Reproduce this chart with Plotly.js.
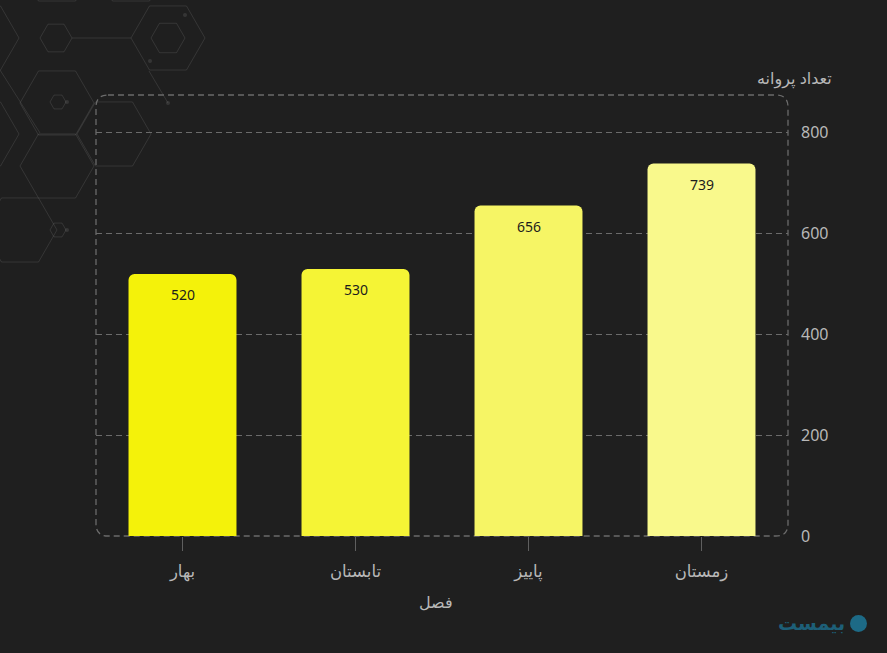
<!DOCTYPE html>
<html><head><meta charset="utf-8">
<script src="https://cdn.plot.ly/plotly-3.0.1.min.js"></script>
<style>html,body{margin:0;padding:0;background:#1f1f1f}#chart{width:887px;height:653px}</style>
</head><body><div id="chart"></div>
<script>
const seasons = ['بهار', 'تابستان', 'پاییز', 'زمستان'];
const counts = [520, 530, 656, 739];
const barColors = ['#f4f20a', '#f5f435', '#f6f565', '#f9f98c'];
const yTicks = [0, 200, 400, 600, 800];
const xTitle = 'فصل';
const yTitle = 'تعداد پروانه';

// layout geometry (pixels)
const W = 887, H = 653;
const M = {l: 96, r: 99, t: 95, b: 117};
const PW = W - M.l - M.r, PH = H - M.t - M.b;
const X = px => ((px - M.l) / PW).toFixed(5);
const Y = py => ((H - M.b - py) / PH).toFixed(5);

function pathOf(cmds) {
  return cmds.map(c => c[0] + ' ' + c.slice(1).map(q => X(q[0]) + ',' + Y(q[1])).join(' ')).join(' ');
}

const deco = 'rgba(255,255,255,0.10)';
function hex(cx, cy, R) {
  const h = R * 0.866;
  const v = [[cx - R, cy], [cx - R / 2, cy - h], [cx + R / 2, cy - h], [cx + R, cy], [cx + R / 2, cy + h], [cx - R / 2, cy + h]];
  return {type: 'path', xref: 'paper', yref: 'paper', layer: 'below',
    path: pathOf([['M', v[0]], ['L', v[1]], ['L', v[2]], ['L', v[3]], ['L', v[4]], ['L', v[5]]]) + ' Z',
    line: {color: deco, width: 1}};
}
function seg(a, b) {
  return {type: 'path', xref: 'paper', yref: 'paper', layer: 'below',
    path: pathOf([['M', a], ['L', b]]), line: {color: deco, width: 1}};
}
function dot(cx, cy) {
  return {type: 'circle', xref: 'paper', yref: 'paper', layer: 'below',
    x0: X(cx - 2), x1: X(cx + 2), y0: Y(cy + 2), y1: Y(cy - 2),
    fillcolor: deco, line: {width: 0}};
}

const shapes = [
  hex(168, 38, 37), hex(168, 38, 17), hex(-18, 38, 37), hex(56, 38, 16),
  hex(57, -31, 37), hex(131, -31, 37),
  hex(57, 103, 37), hex(58, 102, 8), hex(114, 134, 37),
  hex(57, 166, 37), hex(-18, 134, 37), hex(20, 230, 37), hex(58, 230, 8),
  seg([72, 38], [131, 38]), seg([149, 71], [168, 103]), seg([0, 70], [40, 133]),
  dot(67, 102), dot(67, 230), dot(168, 103), dot(185, 15), dot(150, 61)
];

const dashStyle = '6px,4px';
const frameColor = '#6b6b6b';

// rounded dashed plot frame
const bx0 = 96, bx1 = 788, by0 = 95, by1 = 536, rr = 12;
shapes.push({type: 'path', xref: 'paper', yref: 'paper', layer: 'below',
  path: pathOf([
    ['M', [bx0 + rr, by0]], ['L', [bx1 - rr, by0]], ['Q', [bx1, by0], [bx1, by0 + rr]],
    ['L', [bx1, by1 - rr]], ['Q', [bx1, by1], [bx1 - rr, by1]],
    ['L', [bx0 + rr, by1]], ['Q', [bx0, by1], [bx0, by1 - rr]],
    ['L', [bx0, by0 + rr]], ['Q', [bx0, by0], [bx0 + rr, by0]]
  ]) + ' Z',
  line: {color: frameColor, width: 1.3, dash: dashStyle}});

// logo
shapes.push({type: 'circle', xref: 'paper', yref: 'paper', layer: 'above',
  x0: X(850), x1: X(867), y0: Y(632), y1: Y(615), fillcolor: '#1d6a86', line: {width: 0}});

const fontFam = 'Noto Sans, DejaVu Sans, sans-serif';
const textCol = '#b8b8b8';

const annotations = seasons.map((s, i) => ({
  x: s, y: counts[i], xref: 'x', yref: 'y', text: String(counts[i]),
  showarrow: false, yshift: -21, font: {family: fontFam, size: 14, color: '#1c1c1c'}
}));
annotations.push({xref: 'paper', yref: 'paper', x: X(834), y: Y(78), xanchor: 'right', yanchor: 'middle',
  text: yTitle, showarrow: false, font: {family: fontFam, size: 16, color: textCol}});
annotations.push({xref: 'paper', yref: 'paper', x: X(436), y: Y(602), xanchor: 'center', yanchor: 'middle',
  text: xTitle, showarrow: false, font: {family: fontFam, size: 16, color: textCol}});
annotations.push({xref: 'paper', yref: 'paper', x: X(847), y: Y(623), xanchor: 'right', yanchor: 'middle',
  text: '<b>بیمست</b>', showarrow: false, font: {family: fontFam, size: 19, color: '#1d5f78'}});

const trace = {
  type: 'bar', x: seasons, y: counts,
  marker: {color: barColors, cornerradius: 6, line: {width: 0}},
  hoverinfo: 'none'
};

const layout = {
  width: W, height: H,
  margin: M,
  paper_bgcolor: '#1f1f1f', plot_bgcolor: 'rgba(0,0,0,0)',
  showlegend: false, bargap: 0.376,
  font: {family: fontFam, color: textCol},
  xaxis: {type: 'category', range: [-0.5, 3.5], showgrid: false, zeroline: false, showline: false,
    ticks: 'outside', ticklen: 14, tickcolor: '#5f5f5f', tickwidth: 1.2, ticklabelstandoff: 6,
    tickfont: {family: fontFam, size: 16.5, color: textCol}},
  yaxis: {side: 'right', range: [0, 875], tickvals: yTicks, showgrid: true,
    gridcolor: frameColor, griddash: dashStyle, gridwidth: 1.3,
    zeroline: true, zerolinecolor: 'rgba(0,0,0,0)', showline: false, ticks: '',
    ticklabelstandoff: 12, tickfont: {family: fontFam, size: 16, color: textCol}},
  shapes: shapes,
  annotations: annotations
};

Plotly.newPlot('chart', [trace], layout, {staticPlot: true, displayModeBar: false});
</script>
</body></html>
